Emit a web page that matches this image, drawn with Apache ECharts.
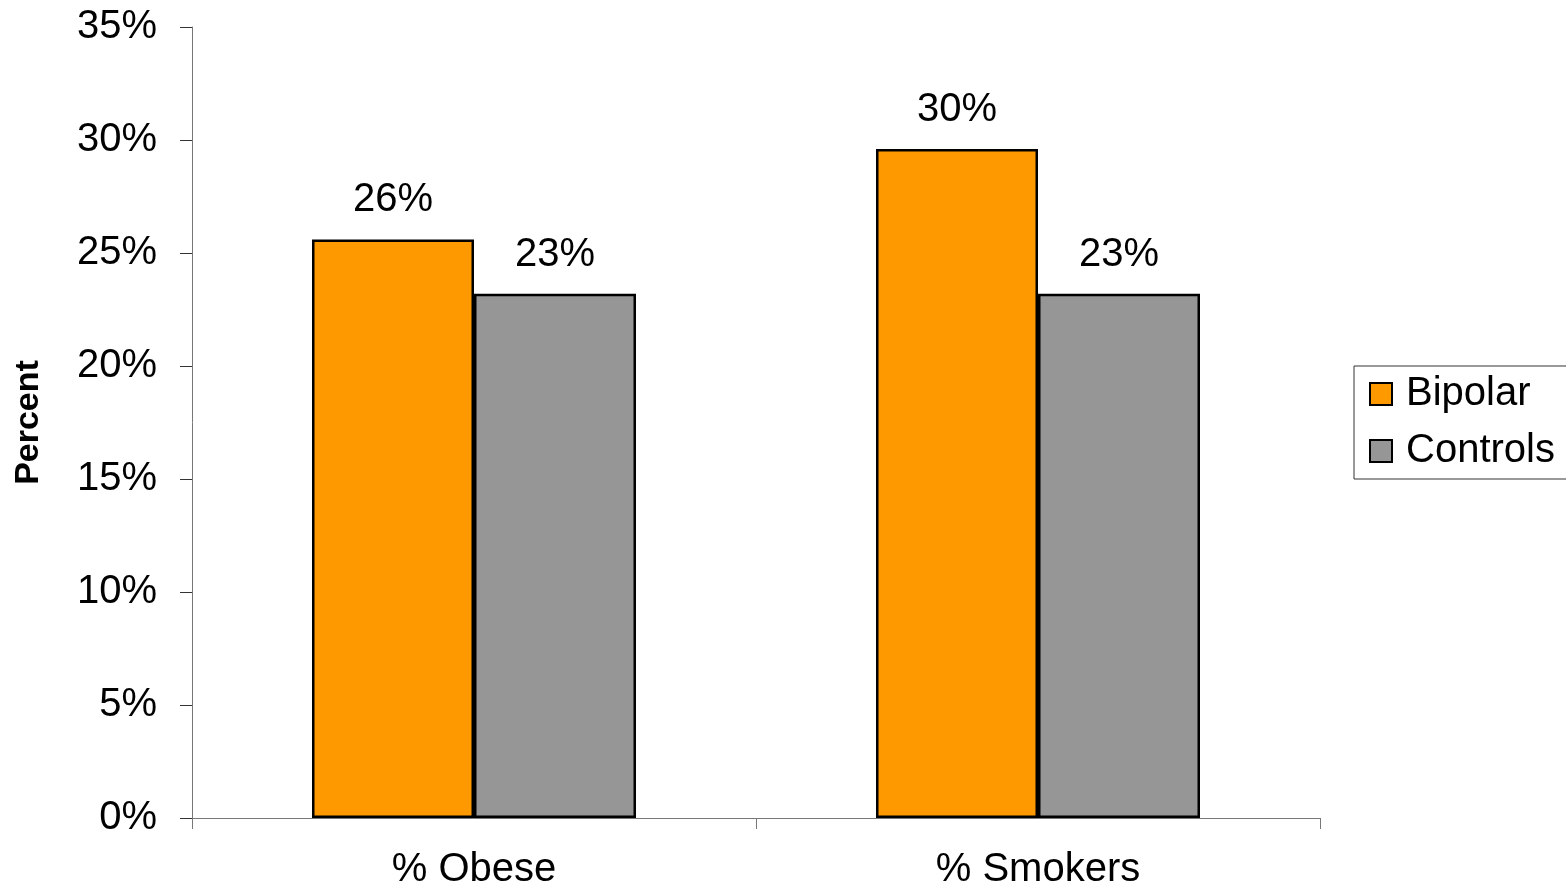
<!DOCTYPE html>
<html>
<head>
<meta charset="utf-8">
<script src="https://cdn.jsdelivr.net/npm/echarts@6/dist/echarts.min.js"></script>
<style>
  html, body { margin: 0; padding: 0; background: #fff; }
  #chart { width: 1566px; height: 883px; }
</style>
</head>
<body>
<div id="chart"></div>
<script>
// Categories and series values (percent)
const categories = ['% Obese', '% Smokers'];
const bipolar = [25.6, 29.6];
const controls = [23.2, 23.2];
const seriesNames = ['Bipolar', 'Controls'];

const FONT = '"Liberation Sans", Arial, sans-serif';

const chart = echarts.init(document.getElementById('chart'));

function barLabel() {
  return {
    show: true,
    position: 'top',
    distance: 19,
    color: '#000',
    fontFamily: FONT,
    fontSize: 40,
    formatter: p => Math.round(p.value) + '%'
  };
}

chart.setOption({
  animation: false,
  backgroundColor: '#fff',
  grid: { left: 192, right: 246, top: 27, bottom: 65, outerBoundsMode: 'none', containLabel: false },
  legend: {
    orient: 'vertical',
    left: 1354,
    top: 366,
    data: seriesNames,
    icon: 'rect',
    itemWidth: 22,
    itemHeight: 22,
    itemGap: 17,
    padding: [8, 40, 8, 15],
    borderColor: '#333',
    borderWidth: 1,
    textStyle: { fontFamily: FONT, fontSize: 40, color: '#000', padding: [0, 0, 0, 9] }
  },
  xAxis: {
    type: 'category',
    data: categories,
    boundaryGap: true,
    axisLine: { lineStyle: { color: '#777', width: 1 } },
    axisTick: { show: true, length: 11, lineStyle: { color: '#777' } },
    axisLabel: { fontFamily: FONT, fontSize: 40, color: '#000', margin: 32 }
  },
  yAxis: {
    type: 'value',
    min: 0,
    max: 35,
    interval: 5,
    name: 'Percent',
    nameLocation: 'middle',
    nameGap: 146,
    nameMoveOverlap: false,
    nameRotate: 90,
    nameTextStyle: { fontFamily: FONT, fontSize: 34, fontWeight: 'bold', color: '#000' },
    axisLine: { show: true, lineStyle: { color: '#777', width: 1 } },
    axisTick: { show: true, length: 12, lineStyle: { color: '#333' } },
    splitLine: { show: false },
    axisLabel: { fontFamily: FONT, fontSize: 40, color: '#000', margin: 35, formatter: '{value}%' }
  },
  series: [
    {
      name: seriesNames[0],
      type: 'bar',
      data: bipolar,
      barWidth: 162,
      barGap: '0%',
      itemStyle: { color: '#FF9900', borderColor: '#000', borderWidth: 2.5 },
      label: barLabel()
    },
    {
      name: seriesNames[1],
      type: 'bar',
      data: controls,
      barWidth: 162,
      barGap: '0%',
      itemStyle: { color: '#969696', borderColor: '#000', borderWidth: 2.5 },
      label: barLabel()
    }
  ]
});
</script>
</body>
</html>
